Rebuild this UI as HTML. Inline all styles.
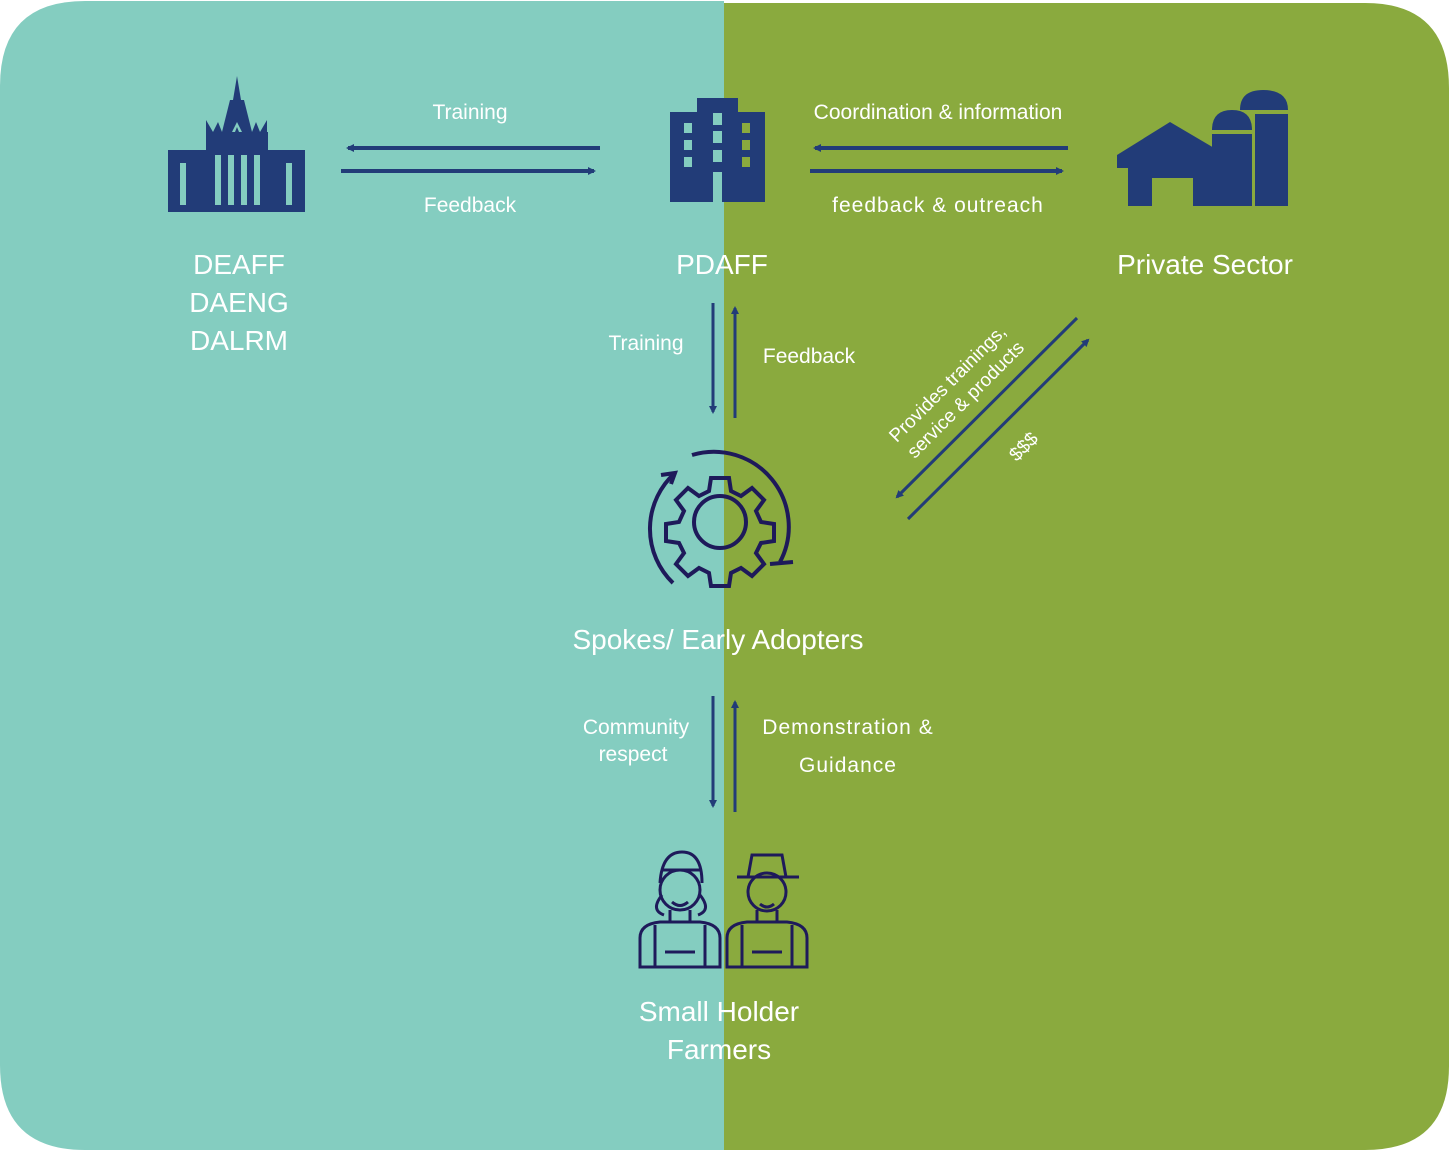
<!DOCTYPE html>
<html><head><meta charset="utf-8"><style>
html,body{margin:0;padding:0;background:#fff;width:1449px;height:1152px;overflow:hidden}
svg{display:block}
text{font-family:"Liberation Sans",sans-serif;fill:#fff}
</style></head><body>
<svg width="1449" height="1152" viewBox="0 0 1449 1152">
<defs>
<marker id="ah" markerWidth="8" markerHeight="8" refX="6" refY="4" orient="auto" markerUnits="userSpaceOnUse"><path d="M0,0 L8,4 L0,8 Z" fill="#223c78"/></marker>
</defs>
<path d="M85,1 H724 V1150 H85 Q0,1150 0,1065 V86 Q0,1 85,1 Z" fill="#84cdc0"/>
<path d="M724,3 H1365 Q1449,3 1449,88 V1066 Q1449,1150 1365,1150 H724 Z" fill="#8aaa3e"/>

<!-- DEAFF building -->
<g fill="#223c78">
<path d="M237,76 L241,100 L244,100 L252,132 L256,122 L260,132 L267,120 L267,150 L206,150 L206,120 L213,132 L218,122 L222,132 L230,100 L233,100 Z"/>
<rect x="206" y="132" width="62" height="80"/>
<rect x="168" y="150" width="38" height="62"/>
<rect x="268" y="150" width="37" height="62"/>
</g>
<g fill="#84cdc0">
<rect x="180" y="163" width="6" height="42"/><rect x="286" y="163" width="6" height="42"/>
<rect x="215" y="155" width="6" height="50"/><rect x="228" y="155" width="6" height="50"/><rect x="241" y="155" width="6" height="50"/><rect x="254" y="155" width="6" height="50"/>
<path d="M232,132 L237,122 L242,132 L239,132 L237,127 L235,132 Z"/>
</g>

<!-- PDAFF building -->
<rect x="670" y="112" width="95" height="90" fill="#223c78"/>
<rect x="697" y="98" width="41" height="20" fill="#223c78"/>
<g fill="#84cdc0"><rect x="684" y="123" width="8" height="10"/><rect x="684" y="140" width="8" height="10"/><rect x="684" y="157" width="8" height="10"/><rect x="713" y="113" width="9" height="12"/><rect x="713" y="131" width="9" height="12"/><rect x="713" y="150" width="9" height="12"/><rect x="713" y="172" width="9" height="30"/></g>
<g fill="#8aaa3e"><rect x="742" y="123" width="8" height="10"/><rect x="742" y="140" width="8" height="10"/><rect x="742" y="157" width="8" height="10"/><rect x="724" y="113" width="0" height="0"/></g>

<!-- Private sector barn -->
<g fill="#223c78">
<path d="M1117,155 L1170,122 L1226,155 L1226,168 L1215,168 L1215,206 L1193,206 L1193,178 L1152,178 L1152,206 L1128,206 L1128,168 L1117,168 Z"/>
<path d="M1212,130 Q1212,110 1232,110 Q1252,110 1252,130 Z"/>
<rect x="1212" y="134" width="40" height="72"/>
<path d="M1240,110 Q1240,90 1263,90 Q1288,90 1288,110 Z"/>
<rect x="1255" y="114" width="33" height="92"/>
</g>
<rect x="1167" y="180" width="3" height="26" fill="#8aaa3e"/>

<!-- horizontal arrows -->
<g stroke="#223c78" stroke-width="4">
<line x1="600" y1="148" x2="348" y2="148" marker-end="url(#ah)"/>
<line x1="341" y1="171" x2="594" y2="171" marker-end="url(#ah)"/>
<line x1="1068" y1="148" x2="815" y2="148" marker-end="url(#ah)"/>
<line x1="810" y1="171" x2="1062" y2="171" marker-end="url(#ah)"/>
<line x1="713" y1="303" x2="713" y2="412" stroke-width="3" marker-end="url(#ah)"/>
<line x1="735" y1="418" x2="735" y2="308" stroke-width="3" marker-end="url(#ah)"/>
<line x1="713" y1="696" x2="713" y2="806" stroke-width="3" marker-end="url(#ah)"/>
<line x1="735" y1="812" x2="735" y2="702" stroke-width="3" marker-end="url(#ah)"/>
<line x1="1077" y1="318" x2="897" y2="497" stroke-width="3" marker-end="url(#ah)"/>
<line x1="908" y1="519" x2="1088" y2="340" stroke-width="3" marker-end="url(#ah)"/>
</g>

<!-- gear icon -->
<g fill="none" stroke="#1e1a5a" stroke-width="4">
<circle cx="720" cy="522" r="26"/>
<path d="M711,478 L729,478 L731,491 L741,496 L752,488 L764,500 L756,511 L761,522 L774,524 L774,541 L761,543 L756,553 L764,564 L752,576 L741,568 L731,573 L729,586 L711,586 L709,573 L699,568 L688,576 L676,564 L684,553 L679,543 L666,541 L666,524 L679,522 L684,511 L676,500 L688,488 L699,496 L709,491 Z"/>
<path d="M673,583 A75,75 0 0 1 675,473"/>
<path d="M661,475 L675,473 L671,484"/>
<path d="M692,455 A75,75 0 0 1 780,562"/>
<path d="M770,564 L793,562"/>
</g>

<!-- farmers -->
<g fill="none" stroke="#1e1a5a" stroke-width="3">
<circle cx="680" cy="890" r="20"/>
<path d="M660,883 Q662,852 682,852 Q702,852 702,883"/>
<path d="M662,870 L700,870"/>
<path d="M662,895 Q650,910 664,915 M700,895 Q712,910 698,915"/>
<path d="M670,910 L670,922 M690,910 L690,922"/>
<path d="M640,967 L640,938 Q640,924 660,922 L700,922 Q720,924 720,938 L720,967 Z"/>
<path d="M655,925 L655,967 M705,925 L705,967 M665,952 L695,952"/>
<circle cx="767" cy="892" r="19"/>
<path d="M737,877 L799,877 M748,877 L752,855 L782,855 L786,877"/>
<path d="M757,910 L757,922 M777,910 L777,922"/>
<path d="M727,967 L727,938 Q727,924 747,922 L787,922 Q807,924 807,938 L807,967 Z"/>
<path d="M742,925 L742,967 M792,925 L792,967 M752,952 L782,952"/>
<path d="M672,902 Q680,909 688,902 M760,904 Q767,910 774,904"/>
</g>

<!-- labels -->
<g font-size="21" text-anchor="middle">
<text x="470" y="119">Training</text>
<text x="470" y="212">Feedback</text>
<text x="938" y="119">Coordination &amp; information</text>
<text x="938" y="212" letter-spacing="1">feedback &amp; outreach</text>
<text x="646" y="350">Training</text>
<text x="809" y="363">Feedback</text>
<text x="636" y="734">Community</text>
<text x="633" y="761">respect</text>
<text x="848" y="734" letter-spacing="1">Demonstration &amp;</text>
<text x="848" y="772" letter-spacing="1">Guidance</text>
</g>
<g font-size="28" text-anchor="middle">
<text x="239" y="274">DEAFF</text>
<text x="239" y="312">DAENG</text>
<text x="239" y="350">DALRM</text>
<text x="722" y="274">PDAFF</text>
<text x="1205" y="274">Private Sector</text>
<text x="718" y="649">Spokes/ Early Adopters</text>
<text x="719" y="1021">Small Holder</text>
<text x="719" y="1059">Farmers</text>
</g>
<g font-size="19" text-anchor="middle">
<text transform="translate(952,388) rotate(-45)">Provides trainings,</text>
<text transform="translate(970,404) rotate(-45)">service &amp; products</text>
<text transform="translate(1028,451) rotate(-45)">$$$</text>
</g>
</svg>
</body></html>
